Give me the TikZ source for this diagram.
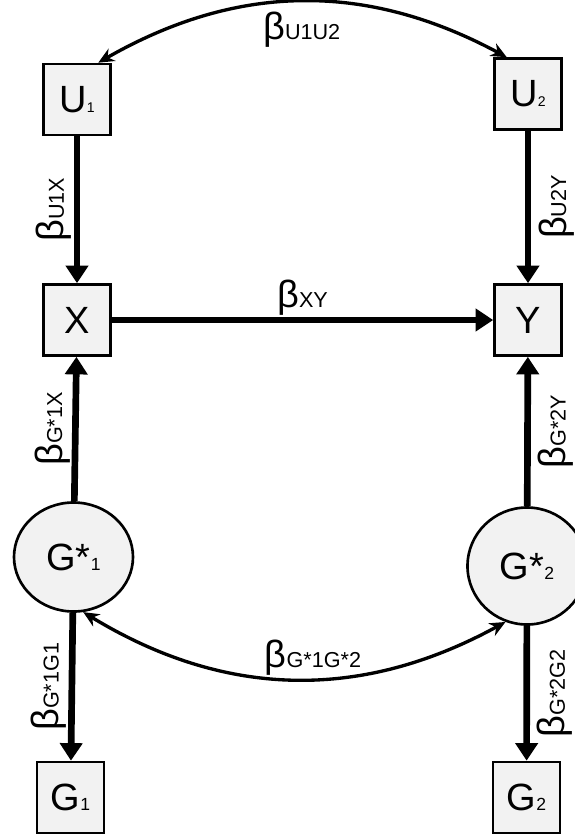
\documentclass[tikz,border=0pt]{standalone}
\usepackage{fontspec}
\setmainfont{Liberation Sans}
\usepackage{tikz}
\usetikzlibrary{arrows.meta,shapes.geometric}
\definecolor{nodebg}{HTML}{F2F2F2}
\tikzset{
  ar/.style={-{Triangle[length=10pt,width=12.5pt]},line width=3.8pt},
  cv/.style={{Stealth[length=9pt,width=8pt]}-{Stealth[length=9pt,width=8pt]},line width=1.9pt},
  box/.style={draw,line width=1.5pt,fill=nodebg,minimum width=1.34cm,minimum height=1.42cm,inner sep=0pt,font=\fontsize{21.6}{22}\selectfont},
  lat/.style={ellipse,draw,line width=1.5pt,fill=nodebg,minimum width=2.38cm,minimum height=2.18cm,inner sep=0pt,font=\fontsize{21.6}{22}\selectfont},
  lbl/.style={inner sep=1pt},
  vl/.style={lbl,rotate=90,anchor=south,outer sep=2pt},
  vr/.style={lbl,rotate=90,anchor=north,outer sep=5pt}
}
\newcommand{\bc}[1]{{\fontsize{21.6}{22}\selectfont β}{\fontsize{12.3}{13}\selectfont #1}}
\newcommand{\sub}[1]{{\fontsize{8}{8}\selectfont #1}}
\newcommand{\subg}[1]{{\fontsize{10}{10}\selectfont #1}}

\begin{document}
\begin{tikzpicture}
\useasboundingbox (0,0) rectangle (11.48,-16.68);
% observed and latent variables
\node[box] (U1) at (1.54,-1.99) {U\sub{1}};
\node[box] (U2) at (10.56,-1.88) {U\sub{2}};
\node[box] (X) at (1.54,-6.40) {X};
\node[box] (Y) at (10.56,-6.40) {Y};
\node[lat] (Gs1) at (1.47,-11.14) {G*\subg{1}};
\node[lat,minimum height=2.34cm] (Gs2) at (10.54,-11.32) {G*\subg{2}};
\node[box] (G1) at (1.41,-15.95) {G\subg{1}};
\node[box] (G2) at (10.53,-15.95) {G\subg{2}};
% paths
\draw[ar] (U1) -- node[midway,vl]{\bc{U1X}} (X);
\draw[ar] (U2) -- node[midway,vr]{\bc{U2Y}} (Y);
\draw[ar] (X) -- node[midway,above,lbl]{\bc{XY}} (Y);
\draw[ar] (Gs1) -- node[midway,vl]{\bc{G*1X}} (X);
\draw[ar] (Gs2) -- node[midway,vr]{\bc{G*2Y}} (Y);
\draw[ar] (Gs1) -- node[midway,vl]{\bc{G*1G1}} (G1);
\draw[ar] (Gs2) -- node[midway,vr]{\bc{G*2G2}} (G2);
% correlations
\draw[cv] (U1.60) to[bend left=29] node[midway,below=4pt,lbl]{\bc{U1U2}} (U2.120);
\draw[cv] (Gs1.-80) to[bend right=30] node[midway,above,lbl,xshift=0.4cm]{\bc{G*1G*2}} (Gs2.-111);
\end{tikzpicture}
\end{document}
